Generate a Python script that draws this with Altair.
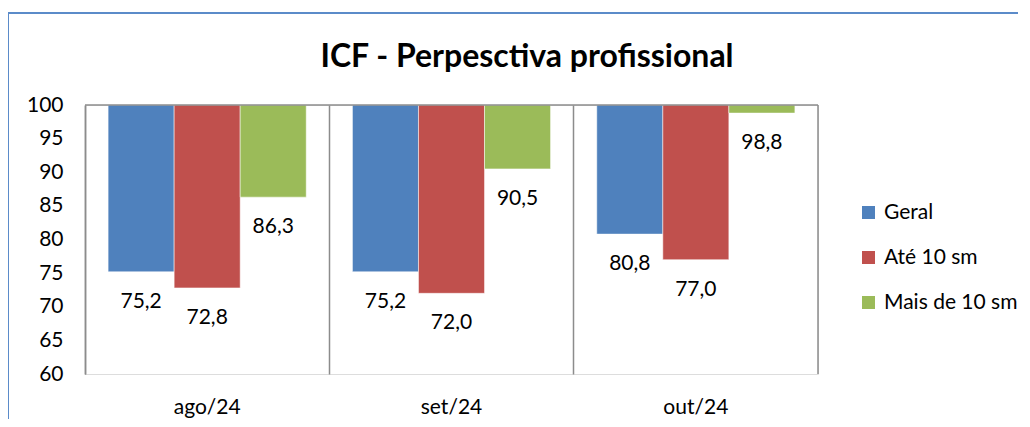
import altair as alt
import pandas as pd

categories = ["ago/24", "set/24", "out/24"]
series = ["Geral", "Até 10 sm", "Mais de 10 sm"]
geral = [75.2, 75.2, 80.8]
ate10 = [72.8, 72.0, 77.0]
mais10 = [86.3, 90.5, 98.8]
colors = ["#4F81BD", "#C0504D", "#9BBB59"]
title_text = "ICF - Perpesctiva profissional"

rows = []
for i, c in enumerate(categories):
    for s, vals in zip(series, [geral, ate10, mais10]):
        rows.append({"mes": c, "serie": s, "valor": vals[i],
                     "rotulo": f"{vals[i]:.1f}".replace(".", ",")})
df = pd.DataFrame(rows)

W, H = 733, 269
FONT = "Lato"
FS = 21

x = alt.X("mes:N", sort=categories, title=None,
          scale=alt.Scale(paddingInner=0, paddingOuter=0),
          axis=alt.Axis(labelAngle=0, labelFontSize=FS, labelPadding=22, labelColor="#000",
                        labelFont=FONT, domain=False, ticks=False, grid=True, bandPosition=0,
                        gridColor="#8c8c8c", gridWidth=1.5))
xo = alt.XOffset("serie:N", sort=series,
                 scale=alt.Scale(paddingInner=0, paddingOuter=0.35))
y = alt.Y("valor:Q", title=None,
          scale=alt.Scale(domain=[60, 100], nice=False, zero=False),
          axis=alt.Axis(values=list(range(60, 101, 5)), labelFontSize=FS, labelColor="#000",
                        labelFont=FONT, labelPadding=22, ticks=False, grid=False,
                        domainColor="#8c8c8c", domainWidth=1.5))

base = alt.Chart(df)
bars = base.mark_bar(stroke="white", strokeWidth=0.5).encode(
    x=x, xOffset=xo, y=y, y2=alt.datum(100),
    color=alt.Color("serie:N", sort=series,
                    scale=alt.Scale(domain=series, range=colors),
                    legend=alt.Legend(title=None, orient="none", legendX=773, legendY=97,
                                      symbolType="square", symbolSize=169, symbolStrokeWidth=0,
                                      labelFontSize=FS, labelFont=FONT, labelColor="#000",
                                      rowPadding=23, labelOffset=5)),
)
labels = base.mark_text(fontSize=FS, font=FONT, dy=30, color="#000").encode(
    x=x, xOffset=xo, y=y, text="rotulo:N")

frame_df = pd.DataFrame({"k": [0]})
title_mark = alt.Chart(pd.DataFrame({"t": [title_text]})).mark_text(
    fontSize=32, font=FONT, fontWeight="bold", color="#000", baseline="alphabetic", align="center"
).encode(x=alt.value(442), y=alt.value(-38), text="t:N")
top_line = alt.Chart(frame_df).mark_rule(color="#8c8c8c", strokeWidth=1.5).encode(
    x=alt.value(0), x2=alt.value(W), y=alt.value(0))
right_line = alt.Chart(frame_df).mark_rule(color="#8c8c8c", strokeWidth=1.5).encode(
    x=alt.value(W), y=alt.value(0), y2=alt.value(H))
border_top = alt.Chart(frame_df).mark_rule(color="#5B8BC9", strokeWidth=2).encode(
    x=alt.value(-77), x2=alt.value(W + 200), y=alt.value(-92))
border_left = alt.Chart(frame_df).mark_rule(color="#5B8BC9", strokeWidth=2).encode(
    x=alt.value(-77), y=alt.value(-92), y2=alt.value(H + 45))

chart = alt.layer(bars, labels, title_mark, top_line, right_line, border_top, border_left).properties(
    width=W, height=H,
    autosize=alt.AutoSizeParams(type="none"),
    padding={"left": 77, "top": 97, "right": 200, "bottom": 45},
).configure_view(stroke=None).configure(background="white")

chart.save("out.html", embed_options={"renderer": "svg", "actions": False})
